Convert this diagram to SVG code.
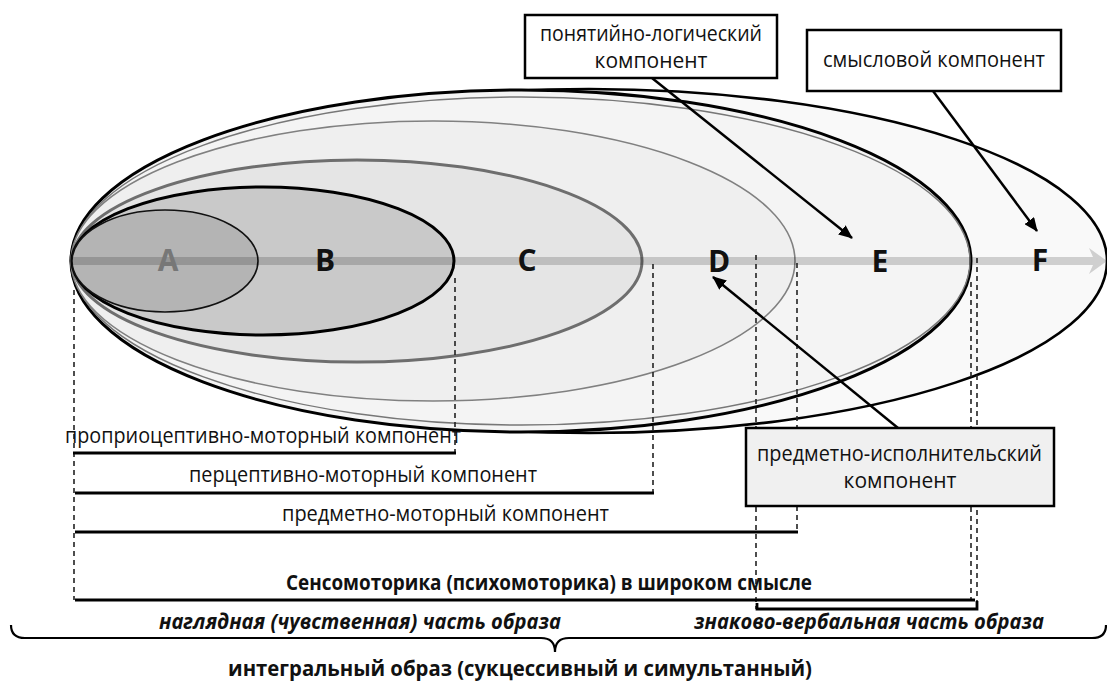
<svg xmlns="http://www.w3.org/2000/svg" width="1107" height="682" viewBox="0 0 1107 682">
<style>
.t{font-family:"Open Sans","Liberation Sans",sans-serif;font-size:21px;fill:#111}
.b{font-weight:bold}
.i{font-style:italic}
.L{font-family:"Open Sans","Liberation Sans",sans-serif;font-size:30px;font-weight:bold;fill:#111;text-anchor:middle}
.box{stroke:#000;stroke-width:2.5}
.dash{stroke:#222;stroke-width:1.6;stroke-dasharray:5 4;fill:none}
.bar{stroke:#000;stroke-width:2.8;fill:none}
.con{stroke:#000;stroke-width:2.5;fill:none;marker-end:url(#ah)}
</style>
<defs>
<marker id="ah" markerUnits="userSpaceOnUse" markerWidth="14" markerHeight="12" refX="13" refY="6" orient="auto">
<path d="M0,0 L14,6 L0,12 Z" fill="#000"/>
</marker>
</defs>
<rect width="1107" height="682" fill="#fff"/>
<g id="ellipse-F"><ellipse cx="589" cy="261" rx="518" ry="172" fill="#f9f9f9" stroke="#000" stroke-width="2.6"/></g>
<g id="ellipse-E"><ellipse cx="521" cy="261" rx="450" ry="171" fill="#f4f4f4" stroke="#000" stroke-width="3"/>
<ellipse cx="521" cy="261" rx="449" ry="164" fill="none" stroke="#777" stroke-width="1.4"/></g>
<g id="ellipse-D"><ellipse cx="433" cy="261" rx="362" ry="140" fill="#efefef" stroke="#808080" stroke-width="1.6"/></g>
<g id="ellipse-C"><ellipse cx="357" cy="261" rx="285" ry="101" fill="#e5e5e5" stroke="#6e6e6e" stroke-width="3"/></g>
<g id="ellipse-B"><ellipse cx="263" cy="261" rx="191" ry="74" fill="#c9c9c9" stroke="#000" stroke-width="3"/></g>
<g id="ellipse-A"><ellipse cx="165" cy="261" rx="93" ry="51" fill="#b4b4b4" stroke="#111" stroke-width="1.6"/></g>
<g id="axis">
<path d="M73,257 H1093 L1089,248 L1107,261 L1089,274 L1093,265 H73 Z" fill="#000" fill-opacity="0.17"/>
</g>
<g id="letters">
<text class="L" x="168" y="271" style="fill:#777">A</text>
<text class="L" x="325" y="271">B</text>
<text class="L" x="527" y="271">C</text>
<text class="L" x="719" y="272">D</text>
<text class="L" x="880" y="272">E</text>
<text class="L" x="1040" y="271">F</text>
</g>
<g id="dashed">
<line class="dash" x1="74" y1="290" x2="74" y2="600"/>
<line class="dash" x1="455" y1="278" x2="455" y2="453"/>
<line class="dash" x1="653" y1="264" x2="653" y2="493"/>
<line class="dash" x1="756" y1="255" x2="756" y2="609"/>
<line class="dash" x1="797" y1="263" x2="797" y2="532"/>
<line class="dash" x1="971" y1="282" x2="971" y2="600"/>
<line class="dash" x1="977" y1="258" x2="977" y2="609"/>
</g>
<g id="box-logic">
<rect class="box" x="525" y="15" width="252" height="63" fill="#fff"/>
<text class="t" x="540" y="41" textLength="222" lengthAdjust="spacingAndGlyphs">понятийно-логический</text>
<text class="t" x="651" y="68" text-anchor="middle">компонент</text>
</g>
<g id="box-meaning">
<rect class="box" x="807" y="30" width="254" height="61" fill="#fff"/>
<text class="t" x="823" y="67" textLength="222" lengthAdjust="spacingAndGlyphs">смысловой компонент</text>
</g>
<g id="box-object">
<rect class="box" x="746" y="428" width="308" height="78" fill="#f0f0f0"/>
<text class="t" x="757" y="461" textLength="285" lengthAdjust="spacingAndGlyphs">предметно-исполнительский</text>
<text class="t" x="900" y="488" text-anchor="middle">компонент</text>
</g>
<g id="connectors">
<line class="con" x1="652" y1="78" x2="852" y2="238"/>
<line class="con" x1="933" y1="91" x2="1037" y2="231"/>
<line class="con" x1="898" y1="428" x2="713" y2="277"/>
</g>
<g id="ranges">
<line class="bar" x1="73" y1="453" x2="456" y2="453"/>
<text class="t" x="65" y="443" textLength="396" lengthAdjust="spacingAndGlyphs">проприоцептивно-моторный компонент</text>
<line class="bar" x1="75" y1="493" x2="654" y2="493"/>
<text class="t" x="189" y="482" textLength="348" lengthAdjust="spacingAndGlyphs">перцептивно-моторный компонент</text>
<line class="bar" x1="75" y1="532" x2="798" y2="532"/>
<text class="t" x="282" y="521" textLength="327" lengthAdjust="spacingAndGlyphs">предметно-моторный компонент</text>
<line class="bar" x1="75" y1="600" x2="975" y2="600"/>
<text class="t b" x="286" y="590" textLength="526" lengthAdjust="spacingAndGlyphs">Сенсомоторика (психомоторика) в широком смысле</text>
<path class="bar" d="M757,603 V609 H977 V601"/>
<text class="t b i" x="159" y="629" textLength="402" lengthAdjust="spacingAndGlyphs">наглядная (чувственная) часть образа</text>
<text class="t b i" x="694" y="629" textLength="350" lengthAdjust="spacingAndGlyphs">знаково-вербальная часть образа</text>
</g>
<g id="brace">
<path d="M11,625 Q11,638 25,638 H541 Q555,638 555,652 Q555,638 569,638 H1092 Q1106,638 1106,625" fill="none" stroke="#000" stroke-width="2.2"/>
<text class="t b" x="228" y="676" textLength="584" lengthAdjust="spacingAndGlyphs">интегральный образ (сукцессивный и симультанный)</text>
</g>
</svg>
